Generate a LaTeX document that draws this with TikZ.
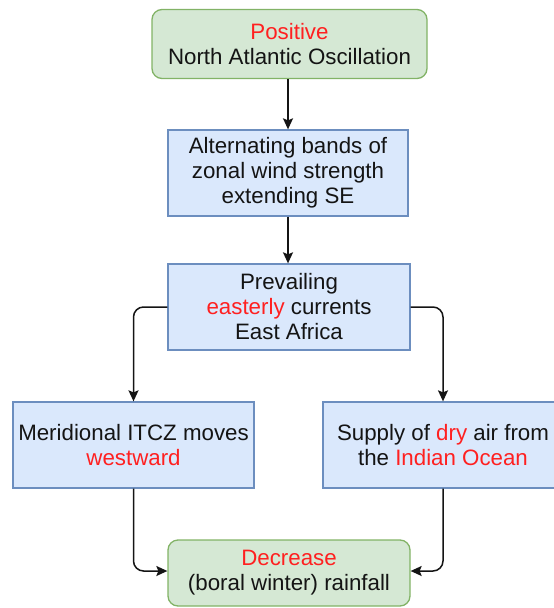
\documentclass[tikz,border=0pt]{standalone}
\usepackage{fontspec}
\setmainfont{Liberation Sans}
\usepackage{xcolor}
\usepackage{tikz}
\usetikzlibrary{positioning,arrows.meta,calc}
\definecolor{greenfill}{HTML}{D5E8D4}
\definecolor{greenline}{HTML}{82B366}
\definecolor{bluefill}{HTML}{DAE8FC}
\definecolor{blueline}{HTML}{6C8EBF}
\definecolor{accent}{RGB}{255,32,32}
\definecolor{inktext}{RGB}{20,20,20}

\begin{document}
\begin{tikzpicture}[x=1pt, y=-1pt,
  outcome/.style={draw=greenline, fill=greenfill, rounded corners=10pt, line width=1.3pt,
    inner sep=0pt, align=center, text=inktext, font=\fontsize{22.3}{25}\selectfont},
  process/.style={draw=blueline, fill=bluefill, line width=1.3pt,
    inner sep=0pt, align=center, text=inktext, font=\fontsize{22.3}{25}\selectfont},
  link/.style={-{Stealth[length=11pt,width=10pt,inset=2pt]}, line width=1.5pt,
    draw=inktext, rounded corners=10pt}
]
\useasboundingbox (0,0) rectangle (554,608);
\clip (0,0) rectangle (554,608);
\node[outcome, minimum width=275pt, minimum height=69pt] (nao) at (289.5,44)
  {\textcolor{accent}{Positive}\\North Atlantic Oscillation};
\node[process, minimum width=240pt, minimum height=86pt] (bands) at (288,173)
  {Alternating bands of\\zonal wind strength\\extending SE};
\node[process, minimum width=242pt, minimum height=86pt] (easterly) at (289,307)
  {Prevailing\\\textcolor{accent}{easterly} currents\\East Africa};
\node[process, minimum width=241pt, minimum height=86pt] (itcz) at (133.5,445)
  {Meridional ITCZ moves\\\textcolor{accent}{westward}};
\node[process, minimum width=240pt, minimum height=86pt] (dryair) at (443,445)
  {Supply of \textcolor{accent}{dry} air from\\the \textcolor{accent}{Indian Ocean}};
\node[outcome, minimum width=242pt, minimum height=66pt] (rain) at (289,573)
  {\textcolor{accent}{Decrease}\\(boral winter) rainfall};
\draw[link] (nao.south -| bands) -- (bands);
\draw[link] (bands.south) -- (bands.south |- easterly.north);
\draw[link] (easterly.west) -| (itcz.north);
\draw[link] (easterly.east) -| (dryair.north);
\draw[link] (itcz.south) |- ([yshift=2pt]rain.west);
\draw[link] (dryair.south) |- ([yshift=2pt]rain.east);
\end{tikzpicture}
\end{document}
